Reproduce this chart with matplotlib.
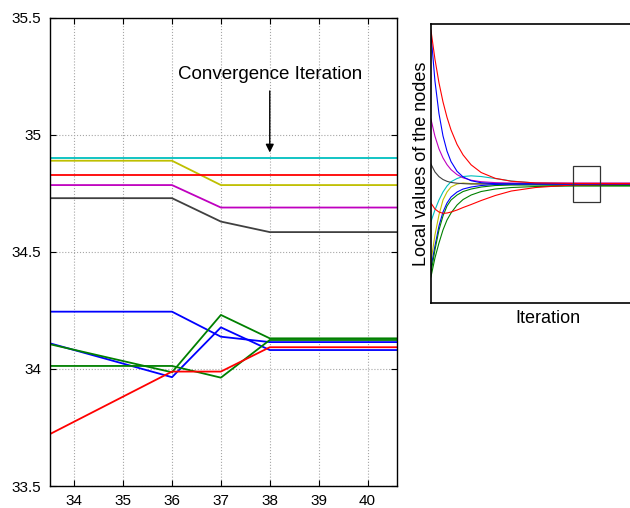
import numpy as np
import matplotlib.pyplot as plt
from matplotlib.patches import Rectangle

plt.rcParams['font.family'] = ['Liberation Sans', 'DejaVu Sans']

# MATLAB default-ish colours
C = dict(b=(0, 0, 1), r=(1, 0, 0), g=(0, 0.5, 0), c=(0, 0.75, 0.75),
         m=(0.75, 0, 0.75), y=(0.75, 0.75, 0), k=(0.25, 0.25, 0.25))

# %% zoomed view: iterations 33..41
iters = [33, 36, 37, 38, 41]
main_cyan = [34.90, 34.90, 34.90, 34.90, 34.90]
main_yellow = [34.89, 34.89, 34.786, 34.786, 34.786]
main_red1 = [34.83, 34.83, 34.83, 34.83, 34.83]
main_magenta = [34.786, 34.786, 34.69, 34.69, 34.69]
main_gray = [34.73, 34.73, 34.63, 34.585, 34.585]
main_blue1 = [34.245, 34.245, 34.138, 34.115, 34.115]
main_blue2 = [34.139, 33.965, 34.178, 34.081, 34.081]
main_green1 = [34.130, 33.986, 34.231, 34.131, 34.131]
main_green2 = [34.013, 34.013, 33.963, 34.124, 34.124]
main_red2 = [33.668, 33.989, 33.989, 34.093, 34.093]

main_series = [
    (main_cyan, 'c'), (main_yellow, 'y'), (main_red1, 'r'),
    (main_magenta, 'm'), (main_gray, 'k'), (main_blue1, 'b'),
    (main_blue2, 'b'), (main_green1, 'g'), (main_green2, 'g'),
    (main_red2, 'r'),
]

yticks = [33.5, 34, 34.5, 35, 35.5]
ytick_labels = ['33.5', '34', '34.5', '35', '35.5']
xticks = [34, 35, 36, 37, 38, 39, 40]

# %% overview inset (arbitrary units)
ins_x = [0, 1, 2, 3, 4, 5, 6.5, 8, 10, 12.5, 16, 20, 26, 35, 58]
ins_red1 = [273, 243.9, 220.3, 201.2, 185.7, 173.1, 158.6, 148.1, 138.2,
            130.5, 124.7, 121.8, 120.1, 119.6, 119.5]
ins_blue1 = [270, 222.1, 189.5, 167.2, 151.9, 141.5, 131.7, 126.1, 122.3,
             120.3, 119.3, 119, 119, 119, 119]
ins_magenta = [184, 166.8, 154.2, 145.1, 138.4, 133.4, 128.4, 125.2, 122.8,
               121.3, 120.4, 120, 120, 120, 120]
ins_gray = [139, 131.1, 126.4, 123.5, 121.7, 120.6, 119.8, 119.4, 119,
            119, 119, 119, 119, 119, 119]
ins_cyan = [81.3, 93, 103, 111, 117, 121.3, 124.5, 126.5, 127.2, 126.5,
            124.5, 122, 120, 119.5, 119.5]
ins_yellow = [41, 68, 88, 103, 111, 116, 119, 120, 119.5, 119.5, 119.5,
              119.5, 119.5, 119.5, 119.5]
ins_red2 = [100, 94, 91, 89.7, 90, 91, 93, 95.5, 98.5, 102.5, 107.5, 112,
            115.5, 118, 119]
ins_blue2 = [35, 57, 77, 91, 100, 106, 111, 114, 116, 117.5, 118.5, 119,
             119, 119, 119]
ins_green1 = [30, 53, 73, 87, 97, 103, 108, 111.5, 114, 116, 117.5, 118,
              118, 117.5, 117.5]
ins_green2 = [26, 45, 60, 73, 83, 90, 98, 103.5, 108, 111.5, 114, 115.5,
              116.5, 117, 117]

ins_series = [
    (ins_cyan, 'c'), (ins_yellow, 'y'), (ins_magenta, 'm'), (ins_gray, 'k'),
    (ins_blue2, 'b'), (ins_green1, 'g'), (ins_green2, 'g'), (ins_red2, 'r'),
    (ins_blue1, 'b'), (ins_red1, 'r'),
]

# %%
fig = plt.figure(figsize=(6.3, 5.08), dpi=100)

ax = fig.add_axes([0.079, 0.0433, 0.551, 0.9213])
for vals, c in main_series:
    ax.plot(iters, vals, color=C[c], lw=1.3)
ax.set_xlim(33.5, 40.6)
ax.set_ylim(33.5, 35.5)
ax.set_xticks(xticks)
ax.set_yticks(yticks)
ax.set_yticklabels(ytick_labels)
ax.tick_params(direction='in', top=True, right=True, length=4,
               labelsize=11, pad=6, width=0.8)
ax.grid(True, ls=':', color='0.65', lw=0.8)
for s in ax.spines.values():
    s.set_linewidth(1.0)

ax.annotate('Convergence Iteration', xy=(38, 34.925), xytext=(38, 35.26),
            ha='center', va='center', fontsize=13.5,
            arrowprops=dict(arrowstyle='-|>', color='k', lw=1.0,
                            mutation_scale=12, shrinkA=4, shrinkB=0))

ins = fig.add_axes([0.684, 0.4035, 0.37, 0.5492])
for vals, c in ins_series:
    ins.plot(ins_x, vals, color=C[c], lw=0.8)
ins.set_xlim(0, 58)
ins.set_ylim(0, 279)
ins.set_xticks([])
ins.set_yticks([])
for s in ins.spines.values():
    s.set_linewidth(1.2)
ins.add_patch(Rectangle((35.25, 101), 6.75, 36, fill=False,
                        edgecolor='0.2', lw=0.9, zorder=5))
ins.set_xlabel('Iteration', fontsize=13, labelpad=5)
ins.set_ylabel('Local values of the nodes', fontsize=13, labelpad=1)

fig.savefig('out.png', dpi=100)
